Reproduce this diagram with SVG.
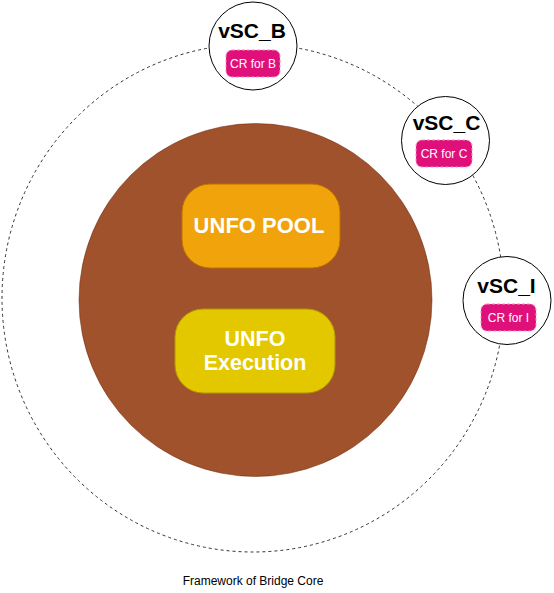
<svg xmlns="http://www.w3.org/2000/svg" width="554" height="593" viewBox="0 0 554 593">
<style>
.lbl{font-family:"Liberation Sans",Arial,sans-serif;text-anchor:middle}
.vsc{fill:#fff;stroke:#000;stroke-width:1}
.vt{font-size:21px;font-weight:bold;fill:#000}
.cr{fill:#E0107A;stroke:#F58FC0;stroke-width:1;stroke-dasharray:3 2}
.ct{font-size:12px;fill:#fff}
.bt{font-size:21.5px;font-weight:bold;fill:#fff}
</style>
<rect width="554" height="593" fill="#fff"/>
<g id="connectors">
<ellipse cx="253" cy="298" rx="251" ry="254" fill="none" stroke="#333" stroke-width="1" stroke-dasharray="3 3"/>
</g>
<g id="core">
<circle cx="255.5" cy="300" r="176.5" fill="#A0522D" stroke="#6D1F00" stroke-width="0.5"/>
</g>
<g id="unfo-pool">
<rect x="182" y="184" width="158" height="84" rx="28" fill="#F0A30A" stroke="#BD7000" stroke-width="1"/>
<text class="lbl bt" x="259" y="233" style="font-size:22px">UNFO POOL</text>
</g>
<g id="unfo-execution">
<rect x="175" y="309" width="160" height="84" rx="28" fill="#E3C800" stroke="#B09500" stroke-width="1"/>
<text class="lbl bt" x="255" y="346">UNFO</text>
<text class="lbl bt" x="255" y="370">Execution</text>
</g>
<g id="vsc-b">
<circle class="vsc" cx="253" cy="46" r="44"/>
<text class="lbl vt" x="252" y="38">vSC_B</text>
<rect class="cr" x="226" y="50" width="54" height="27" rx="6"/>
<text class="lbl ct" x="253" y="68">CR for B</text>
</g>
<g id="vsc-c">
<circle class="vsc" cx="445.5" cy="140.5" r="44"/>
<text class="lbl vt" x="446.5" y="130">vSC_C</text>
<rect class="cr" x="416" y="140" width="56" height="27" rx="6"/>
<text class="lbl ct" x="444" y="158">CR for C</text>
</g>
<g id="vsc-i">
<circle class="vsc" cx="507" cy="300.5" r="44"/>
<text class="lbl vt" x="506.5" y="293">vSC_I</text>
<rect class="cr" x="481" y="304" width="55" height="27" rx="6"/>
<text class="lbl ct" x="508.5" y="322">CR for I</text>
</g>
<g id="caption">
<text class="lbl" x="253" y="585" font-size="12px" fill="#000">Framework of Bridge Core</text>
</g>
</svg>
